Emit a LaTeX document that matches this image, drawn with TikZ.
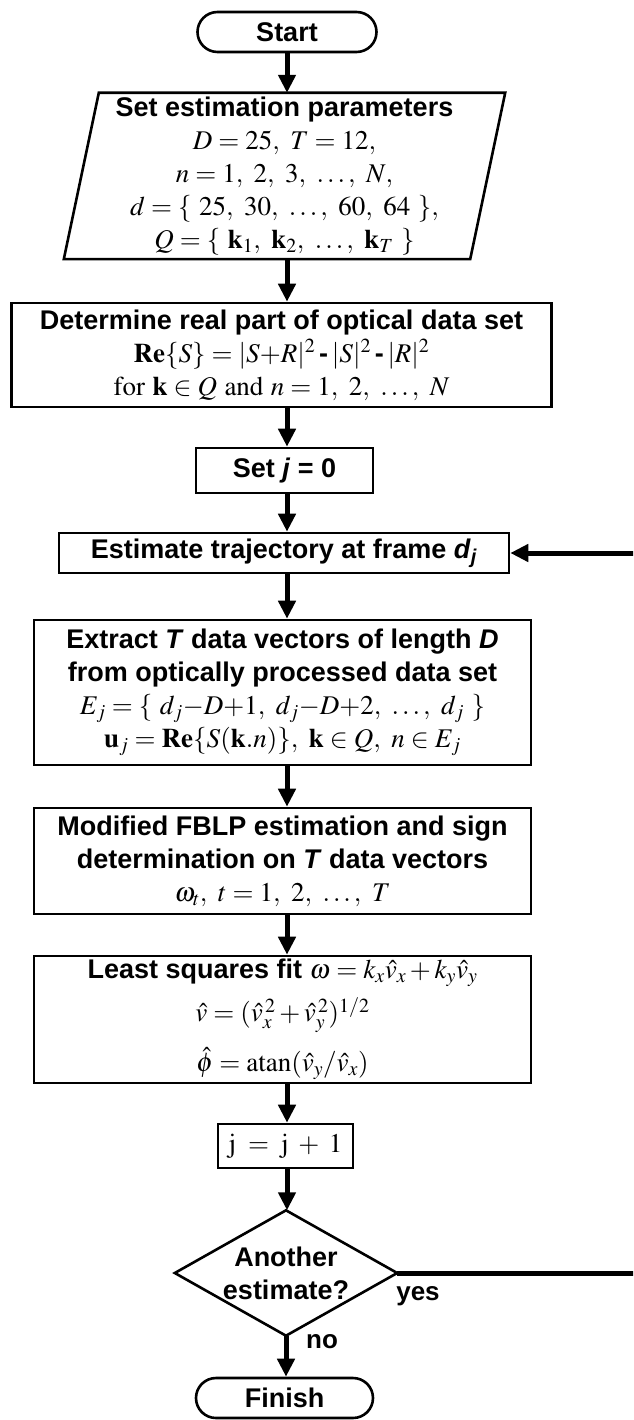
\documentclass[tikz,border=0pt]{standalone}
\usepackage[no-math]{fontspec}
\usepackage{mathptmx}
\setmainfont{Liberation Sans}
\usetikzlibrary{arrows.meta,calc}

\tikzset{
  txt/.style={inner sep=0pt, align=center, font=\fontsize{27}{33}\selectfont\bfseries},
  box/.style={txt, draw, line width=2.6pt},
  term/.style={box, rounded corners=20pt},
  border/.style={line width=2.6pt, line join=miter},
  flow/.style={line width=5pt, -{Triangle[length=18pt,width=17pt]}},
  lbl/.style={inner sep=0pt, font=\fontsize{26}{30}\selectfont\bfseries}
}

\begin{document}
\begin{tikzpicture}[x=1pt,y=-1pt]
\useasboundingbox (0,0) rectangle (633,1420);
\clip (0,0) rectangle (633,1420);
\coordinate (axis) at (287,0);

% terminals and process boxes
\node[term, minimum width=179pt, minimum height=40pt] (start) at (287,32) {Start};

\node[txt, minimum width=406pt, minimum height=166pt] (par) at (284.5,176)
  {Set estimation parameters\\
   $D = 25,\ T = 12,$\\
   $n = 1,\ 2,\ 3,\ \ldots,\ N,$\\
   $d = \{\ 25,\ 30,\ \ldots,\ 60,\ 64\ \},$\\
   $Q = \{\ \mathbf{k}_1,\ \mathbf{k}_2,\ \ldots,\ \mathbf{k}_T\ \}$};
\draw[border] ([xshift=17.5pt]par.north west) -- ([xshift=17.5pt]par.north east)
  -- ([xshift=-17.5pt]par.south east) -- ([xshift=-17.5pt]par.south west) -- cycle;

\node[box, minimum width=540pt, minimum height=104pt] (det) at (281.5,355)
  {Determine real part of optical data set\\
   $\mathbf{Re}\{S\} = |S{+}R|^2 \mathbin{\mbox{-}} |S|^2 \mathbin{\mbox{-}} |R|^2$\\
   $\mathrm{for}\ \mathbf{k}\in Q\ \mathrm{and}\ n = 1,\ 2,\ \ldots,\ N$};

\node[box, minimum width=177pt, minimum height=45pt] (setj) at (284.5,470.5)
  {Set \textit{j} = 0};

\node[box, minimum width=450pt, minimum height=40pt] (est) at (284,553)
  {Estimate trajectory at frame \textit{d}\textsubscript{\textit{j}}};

\node[box, minimum width=497pt, minimum height=145pt] (ext) at (282.5,692.5)
  {Extract \textit{T} data vectors of length \textit{D}\\
   from optically processed data set\\
   $E_j = \{\ d_j{-}D{+}1,\ d_j{-}D{+}2,\ \ldots,\ d_j\ \}$\\
   $\mathbf{u}_j = \mathbf{Re}\{S(\mathbf{k}.n)\},\ \mathbf{k}\in Q,\ n\in E_j$};

\node[box, minimum width=497pt, minimum height=106pt] (fblp) at (282.5,861)
  {Modified FBLP estimation and sign\\
   determination on \textit{T} data vectors\\
   $\omega_t,\ t = 1,\ 2,\ \ldots,\ T$};

\node[box, minimum width=497pt, minimum height=127pt] (lsq) at (282.5,1019.5)
  {Least squares fit $\omega = k_x\hat{v}_x + k_y\hat{v}_y$\\[10pt]
   $\hat{v} = (\hat{v}_x^{\,2} + \hat{v}_y^{\,2})^{1/2}$\\[14pt]
   $\hat{\phi} = \mathrm{atan}(\hat{v}_y/\hat{v}_x)$};

\node[box, minimum width=135pt, minimum height=44pt] (inc) at (285.5,1146)
  {$\mathrm{j} \;=\; \mathrm{j} \;+\; 1$};

% decision
\node[txt, minimum width=222pt, minimum height=125pt] (dec) at (286,1273)
  {Another\\estimate?};
\draw[border] (dec.north) -- (dec.east) -- (dec.south) -- (dec.west) -- cycle;

\node[term, minimum width=177pt, minimum height=40pt] (fin) at (284.5,1398) {Finish};

% connectors
\draw[flow] (start.south -| axis) -- (par.north -| axis);
\draw[flow] (par.south -| axis) -- (det.north -| axis);
\draw[flow] (det.south -| axis) -- (setj.north -| axis);
\draw[flow] (setj.south -| axis) -- (est.north -| axis);
\draw[flow] (est.south -| axis) -- (ext.north -| axis);
\draw[flow] (ext.south -| axis) -- (fblp.north -| axis);
\draw[flow] (fblp.south -| axis) -- (lsq.north -| axis);
\draw[flow] (lsq.south -| axis) -- (inc.north -| axis);
\draw[flow] (inc.south -| axis) -- (dec.north -| axis);
\draw[flow] (dec.south) -- (fin.north -| dec.south);
\draw[flow] (dec.east) -- ++(280,0) |- (est.east);

% branch labels
\node[lbl] (yes) at (418,1296) {yes};
\node[lbl] (no) at (322,1342) {no};
\end{tikzpicture}
\end{document}
